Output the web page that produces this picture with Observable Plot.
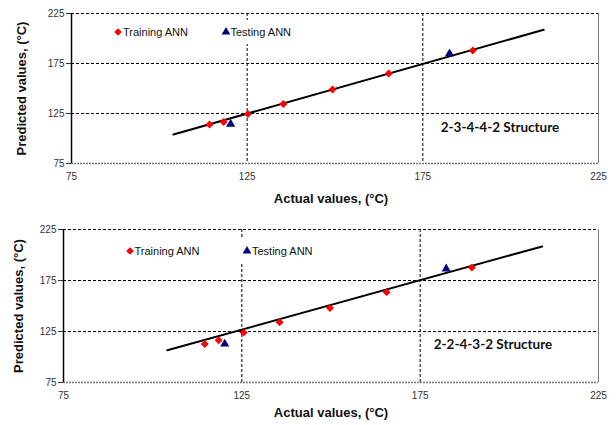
<!DOCTYPE html>
<html>
<head>
<meta charset="utf-8">
<script src="https://cdn.jsdelivr.net/npm/d3@7"></script>
<script src="https://cdn.jsdelivr.net/npm/@observablehq/plot@0.6"></script>
<style>
  body { margin: 0; background: #fff; }
  #wrap { width: 616px; }
  .panel { position: relative; width: 616px; }
  .legend {
    position: absolute; background: #fff;
    font: 11px Arial, "Liberation Sans", sans-serif; color: #111;
  }
  .legend span { position: absolute; white-space: nowrap; line-height: 12px; }
  .legend svg { position: absolute; overflow: visible; }
</style>
</head>
<body>
<div id="wrap"></div>
<script>
// Axis ticks shared by both panels
const ticks = [75, 125, 175, 225];

// Panel 1: 2-3-4-4-2 network
const train1X = [114.3, 118.3, 125.2, 135.3, 149.3, 165.3, 189.2];
const train1Y = [114.1, 116.4, 124.6, 134.6, 149.0, 164.9, 188.1];
const test1X = [120.3, 182.6];
const test1Y = [114.5, 184.8];
const fit1X = [104.0, 209.4];
const fit1Y = [104.0, 208.7];

// Panel 2: 2-2-4-3-2 network
const train2X = [114.6, 118.5, 125.5, 135.6, 149.7, 165.6, 189.5];
const train2Y = [112.8, 116.4, 123.9, 134.0, 148.0, 163.6, 187.8];
const test2X = [120.2, 182.3];
const test2Y = [112.8, 186.5];
const fit2X = [104.1, 209.2];
const fit2Y = [106.6, 208.4];

const xTitle = "Actual values, (°C)";
const yTitle = "Predicted values, (°C)";
const legendTrain = "Training ANN";
const legendTest = "Testing ANN";

const zip = (xs, ys) => xs.map((x, i) => ({x, y: ys[i]}));

function panel(cfg) {
  const train = zip(cfg.trainX, cfg.trainY);
  const test = zip(cfg.testX, cfg.testY);
  const fit = zip(cfg.fitX, cfg.fitY);
  const plot = Plot.plot({
    width: 616,
    height: cfg.height,
    marginTop: cfg.mt, marginBottom: cfg.mb, marginLeft: cfg.ml, marginRight: 18,
    style: {fontFamily: "Arial, 'Liberation Sans', sans-serif", background: "#fff", overflow: "visible"},
    x: {domain: [75, 225]},
    y: {domain: [75, 225]},
    marks: [
      // grid
      Plot.ruleY([125, 175, 225], {stroke: "#000", strokeWidth: 1, strokeDasharray: "3,2"}),
      Plot.ruleY([75], {stroke: "#7a7a7a", strokeWidth: 1.5, strokeDasharray: "2,1"}),
      Plot.ruleX([125, 175], {stroke: "#000", strokeWidth: 1, strokeDasharray: "3,2"}),
      Plot.ruleX([225], {stroke: "#808080", strokeWidth: 1}),
      Plot.ruleX([75], {stroke: "#000", strokeWidth: 1.5}),
      Plot.axisY({ticks, tickSize: 5, tickPadding: 2, fontSize: 10, color: "#333", label: null}),
      Plot.axisX({ticks, tickSize: 0, tickPadding: 9, fontSize: 10, color: "#333", label: null}),
      // fitted line
      Plot.line(fit, {x: "x", y: "y", stroke: "#000", strokeWidth: 2}),
      // points
      Plot.dot(train, {x: "x", y: "y", symbol: "diamond2", r: 3.6, fill: "#ff0000", stroke: "none"}),
      Plot.dot(test, {x: "x", y: "y", symbol: "triangle", r: 3.4, fill: "#000080", stroke: "none"}),
      // titles and annotation
      Plot.text([xTitle], {frameAnchor: "bottom", dy: cfg.xTitleDy, dx: cfg.xTitleDx, textAnchor: "middle", fontSize: 13, fontWeight: "bold", fill: "#111"}),
      Plot.text([yTitle], {frameAnchor: "left", dx: cfg.yTitleDx, rotate: -90, textAnchor: "middle", fontSize: 13, fontWeight: "bold", fill: "#111"}),
      Plot.text([cfg.structure], {frameAnchor: "bottom-right", dx: cfg.sDx, dy: cfg.sDy, textAnchor: "middle", fontSize: 13.5, fontWeight: "bold", fill: "#111", fontFamily: "Lato, 'Open Sans', sans-serif"})
    ]
  });
  const div = document.createElement("div");
  div.className = "panel";
  div.appendChild(plot);

  // legend box (white background over the grid)
  const lg = document.createElement("div");
  lg.className = "legend";
  Object.assign(lg.style, {left: cfg.lgLeft + "px", top: cfg.lgTop + "px", width: cfg.lgWidth + "px", height: cfg.lgHeight + "px"});
  const cy = cfg.lgHeight / 2;
  const d = 3.8, t = 2.5;
  lg.innerHTML = `
    <svg width="1" height="1" style="left:${cfg.trainSym}px;top:${cy}px">
      <path d="M0,${-d}L${d},0L0,${d}L${-d},0Z" fill="#ff0000"/></svg>
    <span style="left:${cfg.trainSym + 5}px;top:${cy - 6}px">${legendTrain}</span>
    <svg width="1" height="1" style="left:${cfg.testSym}px;top:${cy}px">
      <path d="M0,${-2 * t}L${Math.sqrt(3) * t},${t}L${-Math.sqrt(3) * t},${t}Z" fill="#000080"/></svg>
    <span style="left:${cfg.testSym + 5}px;top:${cy - 6}px">${legendTest}</span>`;
  div.appendChild(lg);
  return div;
}

const wrap = document.getElementById("wrap");
wrap.appendChild(panel({
  height: 210, mt: 13, mb: 47, ml: 71,
  trainX: train1X, trainY: train1Y, testX: test1X, testY: test1Y, fitX: fit1X, fitY: fit1Y,
  xTitleDx: -4, xTitleDy: 39, yTitleDx: -50,
  structure: "2-3-4-4-2 Structure", sDx: -98.5, sDy: -32,
  lgLeft: 110, lgTop: 20, lgWidth: 200, lgHeight: 24, trainSym: 8, testSym: 115.5
}));
wrap.appendChild(panel({
  height: 215, mt: 19, mb: 43, ml: 63,
  trainX: train2X, trainY: train2Y, testX: test2X, testY: test2Y, fitX: fit2X, fitY: fit2Y,
  xTitleDx: 0, xTitleDy: 34, yTitleDx: -45,
  structure: "2-2-4-3-2 Structure", sDx: -105.5, sDy: -33.5,
  lgLeft: 120, lgTop: 29, lgWidth: 200, lgHeight: 24, trainSym: 9.5, testSym: 127
}));
</script>
</body>
</html>
